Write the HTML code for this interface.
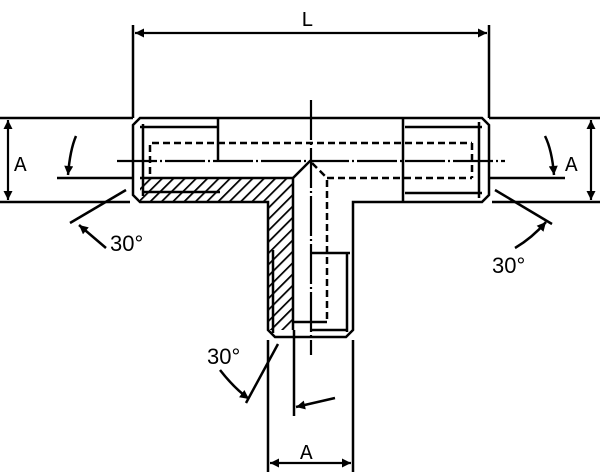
<!DOCTYPE html>
<html><head><style>html,body{margin:0;padding:0;background:#fff}svg{display:block}</style></head>
<body>
<svg width="600" height="472" viewBox="0 0 600 472" xmlns="http://www.w3.org/2000/svg">
<defs>
<pattern id="h" width="8" height="8" patternUnits="userSpaceOnUse" patternTransform="rotate(45)">
<rect width="8" height="8" fill="#fff"/><line x1="0" y1="0" x2="0" y2="8" stroke="#000" stroke-width="3.5"/>
</pattern>
<marker id="ar" viewBox="0 0 10 10" refX="10" refY="5" markerWidth="16" markerHeight="9" orient="auto-start-reverse" markerUnits="userSpaceOnUse">
<path d="M0,0 L10,5 L0,10 z" fill="#000"/></marker>
</defs>
<path d="M140,179 L293,179 L293,330 L268,330 L268,202 L140,202 Z" fill="url(#h)"/>
<g stroke="#000" stroke-width="2.5" fill="none" stroke-linecap="butt">
<!-- L dimension -->
<line x1="133" y1="25" x2="133" y2="118"/>
<line x1="489" y1="25" x2="489" y2="118"/>
<line x1="135" y1="33" x2="487" y2="33" marker-start="url(#ar)" marker-end="url(#ar)" stroke-width="2.2"/>
<!-- left extension -->
<line x1="0" y1="118" x2="133" y2="118"/>
<line x1="0" y1="202" x2="130" y2="202"/>
<line x1="8" y1="120" x2="8" y2="200" marker-start="url(#ar)" marker-end="url(#ar)" stroke-width="2.2"/>
<line x1="57" y1="178" x2="133" y2="178"/>
<path d="M76,136 Q70,150 68,175" marker-end="url(#ar)" stroke-width="2.5"/>
<!-- right extension -->
<line x1="489" y1="118" x2="600" y2="118"/>
<line x1="492" y1="202" x2="600" y2="202"/>
<line x1="591" y1="120" x2="591" y2="200" marker-start="url(#ar)" marker-end="url(#ar)" stroke-width="2.2"/>
<line x1="489" y1="178" x2="565" y2="178"/>
<path d="M545,136 Q552,150 554,175" marker-end="url(#ar)" stroke-width="2.5"/>
<!-- body outline -->
<path d="M140,118 L482,118 L489,125 L489,195 L482,202 L353,202 L353,330 L346,337 L275,337 L268,330 L268,202 L140,202 L133,195 L133,125 Z"/>
<!-- left end details -->
<line x1="143" y1="124" x2="143" y2="196"/>
<line x1="140" y1="127" x2="218" y2="127"/>
<line x1="218" y1="118" x2="218" y2="161"/>
<line x1="140" y1="178" x2="293" y2="178"/>
<line x1="293" y1="178" x2="310" y2="161"/>
<line x1="293" y1="178" x2="293" y2="330"/>
<line x1="143" y1="192" x2="220" y2="192"/>
<!-- right end details -->
<line x1="403" y1="118" x2="403" y2="202"/>
<line x1="405" y1="127" x2="482" y2="127"/>
<line x1="405" y1="193" x2="482" y2="193"/>
<line x1="479" y1="122" x2="479" y2="198"/>
<!-- bottom branch details -->
<line x1="311" y1="253" x2="350" y2="253"/>
<line x1="347" y1="253" x2="347" y2="332"/>
<line x1="311" y1="330" x2="347" y2="330"/>
<line x1="273" y1="250" x2="273" y2="333"/>
<line x1="293" y1="322" x2="327" y2="322"/>
</g>
<g stroke="#000" stroke-width="2.5" fill="none" stroke-dasharray="7,4">
<line x1="152" y1="143" x2="472" y2="143"/>
<line x1="150" y1="145" x2="150" y2="178"/>
<line x1="327" y1="178" x2="472" y2="178"/>
<line x1="472" y1="143" x2="472" y2="178"/>
<line x1="327" y1="180" x2="327" y2="320"/>
<line x1="312" y1="163" x2="327" y2="178"/>
</g>
<g stroke="#000" stroke-width="2.2" fill="none" stroke-dasharray="40,3,2,3">
<line x1="117" y1="161" x2="505" y2="161"/>
<line x1="311" y1="100" x2="311" y2="355"/>
</g>
<g stroke="#000" stroke-width="2.5" fill="none">
<line x1="70" y1="223" x2="126" y2="190"/>
<path d="M106,248 Q92,236 79,225" marker-end="url(#ar)" stroke-width="2.5"/>
<line x1="495" y1="190" x2="552" y2="224"/>
<path d="M515,248 Q532,238 546,222" marker-end="url(#ar)" stroke-width="2.5"/>
<line x1="246" y1="403" x2="278" y2="344"/>
<path d="M220,370 Q234,388 249,399" marker-end="url(#ar)" stroke-width="2.5"/>
<line x1="268" y1="340" x2="268" y2="472"/>
<line x1="353" y1="340" x2="353" y2="472"/>
<line x1="270" y1="463" x2="351" y2="463" marker-start="url(#ar)" marker-end="url(#ar)" stroke-width="2.2"/>
<line x1="294" y1="330" x2="294" y2="416"/>
<path d="M335,398 Q318,402 296,407" marker-end="url(#ar)" stroke-width="2.5"/>
</g>
<g font-family="Liberation Mono, monospace" font-size="21" fill="#000">
<text x="301" y="26">L</text>
<text x="14" y="171">A</text>
<text x="565" y="171">A</text>
<text x="300" y="459">A</text>
</g>
<g font-family="Liberation Sans, sans-serif" font-size="22" fill="#000">
<text x="110" y="251">30°</text>
<text x="492" y="273">30°</text>
<text x="207" y="364">30°</text>
</g>
</svg>
</body></html>
